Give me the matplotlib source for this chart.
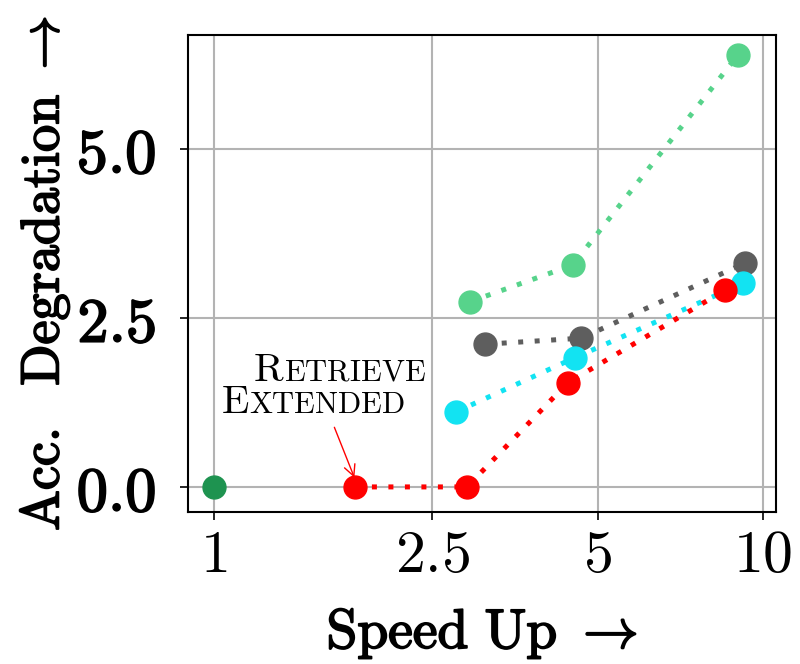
import matplotlib
matplotlib.use("Agg")
import matplotlib.pyplot as plt
import matplotlib.patheffects as pe
from matplotlib.ticker import NullLocator
from matplotlib.offsetbox import TextArea, HPacker, AnnotationBbox

plt.rcParams['mathtext.fontset'] = 'cm'
plt.rcParams['font.family'] = 'serif'
plt.rcParams['font.serif'] = ['DejaVu Serif']

# data
base_x = [1.0]
base_y = [0.0]
red_x = [1.81, 2.89, 4.41, 8.53]
red_y = [0.0, 0.0, 1.54, 2.91]
cyan_x = [2.76, 4.54, 9.2]
cyan_y = [1.11, 1.91, 3.01]
gray_x = [3.12, 4.67, 9.27]
gray_y = [2.11, 2.20, 3.31]
lgreen_x = [2.93, 4.50, 9.01]
lgreen_y = [2.74, 3.28, 6.39]

xticks = [1, 2.5, 5, 10]
xticklabels = ["$1$", "$2.5$", "$5$", "$10$"]
yticks = [0.0, 2.5, 5.0]
yticklabels = ["$0.0$", "$2.5$", "$5.0$"]
annot_big = ["R", "E"]
annot_small = ["ETRIEVE", "XTENDED"]

fig = plt.figure(figsize=(8, 6.64), dpi=100)
ax = fig.add_axes([0.235, 0.229, 0.735, 0.718])

bold = [pe.withStroke(linewidth=1.3, foreground='black')]

ls = (0, (1, 2.3))
lw = 3.6
ms = 16.5
series = [
    (lgreen_x, lgreen_y, "#57d38b"),
    (gray_x, gray_y, "#5e5e5e"),
    (cyan_x, cyan_y, "#12e3f2"),
    (red_x, red_y, "#ff0000"),
]
for xs, ys, c in series:
    ax.plot(xs, ys, linestyle=ls, color=c, lw=lw, zorder=3)
    ax.plot(xs, ys, linestyle='none', marker='o', ms=ms, color=c, zorder=4)
ax.plot(base_x, base_y, linestyle='none', marker='o', ms=ms, color="#1e9350", zorder=4)

ax.set_xscale('log')
ax.set_xlim(0.897, 10.56)
ax.set_ylim(-0.37, 6.68)
ax.set_xticks(xticks, labels=xticklabels)
ax.xaxis.set_minor_locator(NullLocator())
ax.set_yticks(yticks, labels=yticklabels, path_effects=bold)
ax.tick_params(axis='x', labelsize=43, length=6, width=1.2, pad=4)
ax.tick_params(axis='y', labelsize=45, length=6, width=1.2, pad=17)
ax.grid(True, color="#b3b3b3", lw=1.5, zorder=0)
for s in ax.spines.values():
    s.set_linewidth(1.5)

ax.set_xlabel(r"$\mathrm{Speed\ Up}\ \rightarrow$", fontsize=40, labelpad=16,
              path_effects=bold)
ax.set_ylabel(r"$\mathrm{Acc.\ \ Degradation}\ \rightarrow$", fontsize=39, labelpad=4,
              path_effects=bold)

# annotation in small caps
big, small = 29, 22
anchors = [(1.177, 1.45), (1.03, 0.98)]
for b, s, (xa, ya) in zip(annot_big, annot_small, anchors):
    row = HPacker(children=[TextArea("$\\mathrm{%s}$" % b, textprops=dict(fontsize=big)),
                            TextArea("$\\mathrm{%s}$" % s, textprops=dict(fontsize=small))],
                  align="baseline", pad=0, sep=0)
    ab = AnnotationBbox(row, (xa, ya), xycoords='data', frameon=False,
                        box_alignment=(0.0, 0.0), zorder=6)
    ax.add_artist(ab)
ax.annotate("", xy=(1.81, 0.1), xytext=(1.65, 0.92),
            arrowprops=dict(arrowstyle='->', color='red', lw=1.0, mutation_scale=20), zorder=5)

fig.savefig("out.png", dpi=100)
